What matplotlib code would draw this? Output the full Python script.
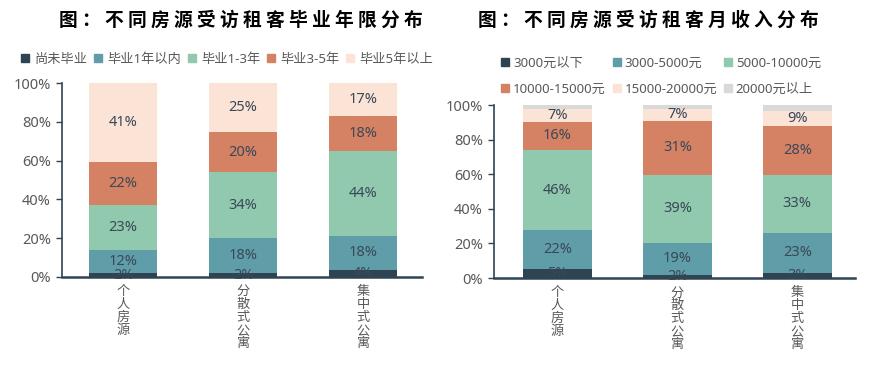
import matplotlib

matplotlib.use('Agg')
import matplotlib.pyplot as plt
from matplotlib.patches import Patch
from matplotlib.ticker import PercentFormatter

plt.rcParams['font.family'] = ['Noto Sans', 'Noto Sans CJK SC', 'DejaVu Sans']

# data
categories = ['个人房源', '分散式公寓', '集中式公寓']

grad_labels = ['尚未毕业', '毕业1年以内', '毕业1-3年', '毕业3-5年', '毕业5年以上']
grad_none = [2.0, 2.0, 3.6]
grad_1y = [12.0, 17.9, 17.6]
grad_1_3y = [23.0, 34.2, 43.9]
grad_3_5y = [22.2, 20.4, 17.9]
grad_5y_plus = [40.8, 25.4, 17.0]

income_labels = ['3000元以下', '3000-5000元', '5000-10000元',
                 '10000-15000元', '15000-20000元', '20000元以上']
inc_lt3k = [5.2, 1.6, 2.9]
inc_3_5k = [22.4, 18.8, 23.4]
inc_5_10k = [46.4, 39.2, 33.3]
inc_10_15k = [16.4, 31.2, 28.4]
inc_15_20k = [7.4, 7.1, 8.6]
inc_gt20k = [2.2, 2.1, 3.4]

colors = ['#2e4453', '#5f9ea9', '#90c9ad', '#d58264', '#fbe3d6', '#d9d9d9']
axis_color = '#2e4453'
text_color = '#595959'
label_color = '#3a4858'


def stacked(ax, series, width, show_label):
    bottom = [0.0] * len(categories)
    x = range(len(categories))
    for i, vals in enumerate(series):
        bars = ax.bar(x, vals, width, bottom=bottom, color=colors[i], linewidth=0)
        if show_label[i]:
            ax.bar_label(bars, labels=[f'{v:.0f}%' for v in vals], label_type='center',
                         color=label_color, fontsize=10.5)
        bottom = [b + v for b, v in zip(bottom, vals)]
    ax.set_ylim(0, 100)
    ax.set_yticks(range(0, 101, 20))
    ax.yaxis.set_major_formatter(PercentFormatter(decimals=0))
    ax.set_xticks(list(x))
    ax.set_xticklabels(['\n'.join(c) for c in categories], va='top', linespacing=1.0)
    ax.tick_params(axis='x', length=0, pad=6, colors=text_color, labelsize=9.5)
    ax.tick_params(axis='y', length=4, width=1, colors=axis_color, labelcolor=text_color,
                   labelsize=10.5, pad=4)
    for s in ['top', 'right']:
        ax.spines[s].set_visible(False)
    ax.spines['left'].set_color(axis_color)
    ax.spines['left'].set_linewidth(1.2)
    ax.spines['bottom'].set_color(axis_color)
    ax.spines['bottom'].set_linewidth(1.8)


fig = plt.figure(figsize=(8.78, 3.66), dpi=100)

ax1 = fig.add_axes([0.0706, 0.2432, 0.41, 0.530])
stacked(ax1, [grad_none, grad_1y, grad_1_3y, grad_3_5y, grad_5y_plus], 0.57,
        [True] * 5)
ax1.set_xlim(-0.51, 2.49)

ax2 = fig.add_axes([0.5626, 0.2404, 0.411, 0.4727])
stacked(ax2, [inc_lt3k, inc_3_5k, inc_5_10k, inc_10_15k, inc_15_20k, inc_gt20k], 0.575,
        [True] * 5 + [False])
ax2.set_xlim(-0.53, 2.48)

title_kw = dict(fontsize=13.5, fontweight='bold', color='black', ha='center', va='center',
                family=['Noto Sans CJK SC'])
fig.text(241 / 878, 1 - 20 / 366, ' '.join('图：不同房源受访租客毕业年限分布'), **title_kw)
fig.text(648 / 878, 1 - 20 / 366, ' '.join('图：不同房源受访租客月收入分布'), **title_kw)

# legends
h1 = [Patch(color=colors[i], label=grad_labels[i]) for i in range(5)]
fig.legend(handles=h1, loc='center left', bbox_to_anchor=(16 / 878, 1 - 59 / 366),
           ncol=5, frameon=False, fontsize=9.5, labelcolor=text_color,
           handlelength=0.6, handleheight=0.6, handletextpad=0.4, columnspacing=0.5,
           borderaxespad=0)

h2 = [Patch(color=colors[i], label=income_labels[i]) for i in range(6)]
order = [0, 3, 1, 4, 2, 5]
fig.legend(handles=[h2[i] for i in order], loc='center left',
           bbox_to_anchor=(496 / 878, 1 - 76 / 366), ncol=3, frameon=False,
           fontsize=9.5, labelcolor=text_color, handlelength=0.6, handleheight=0.6,
           handletextpad=0.3, columnspacing=0.5, labelspacing=1.0, borderaxespad=0)

plt.savefig('out.png', dpi=100)
